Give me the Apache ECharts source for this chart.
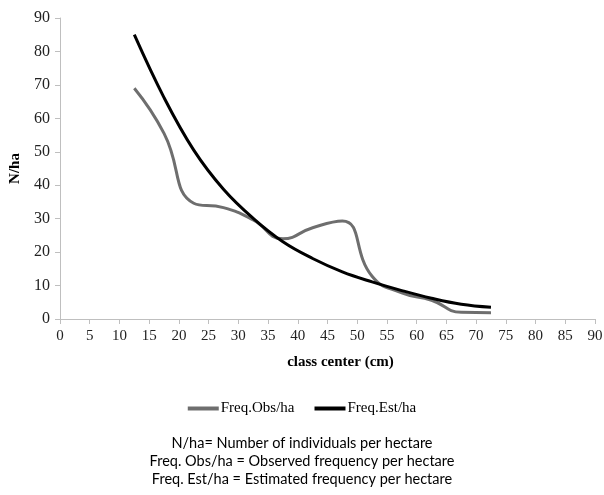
<!DOCTYPE html>
<html>
<head>
<meta charset="utf-8">
<script src="https://cdn.jsdelivr.net/npm/echarts@6/dist/echarts.min.js"></script>
<style>
  html, body { margin: 0; padding: 0; background: #fff; }
  #main { width: 604px; height: 495px; }
</style>
</head>
<body>
<div id="main"></div>
<script>
// class centres (cm)
var classCenter = [12.5, 17.5, 22.5, 27.5, 32.5, 37.5, 42.5, 47.5, 52.5, 57.5, 62.5, 67.5, 72.5];
// observed and estimated frequency per hectare
var freqObs = [69, 55.5, 34.6, 33.3, 29.6, 24.0, 27.3, 29.3, 12.8, 7.8, 5.6, 2.0, 1.9];
var freqEst = [85, 66.2, 50.5, 38.8, 30.1, 23.1, 18.1, 14.1, 11.1, 8.5, 6.2, 4.4, 3.5];
var xTicks = { min: 0, max: 90, step: 5 };
var yTicks = { min: 0, max: 90, step: 10 };
var footnotes = [
    'N/ha= Number of individuals per hectare',
    'Freq. Obs/ha = Observed frequency per hectare',
    'Freq. Est/ha = Estimated frequency per hectare'
];

function pairs(xs, ys) {
    return xs.map(function (x, i) { return [x, ys[i]]; });
}

var serif = '"Liberation Serif", "Times New Roman", serif';
var axisGrey = '#bfbfbf';

var myChart = echarts.init(document.getElementById('main'));
var option = {
    animation: false,
    backgroundColor: '#fff',
    grid: { left: 60, right: 9, top: 18, bottom: 176, containLabel: false, outerBoundsMode: 'none' },
    legend: {
        top: 396,
        left: 'center',
        icon: 'rect',
        itemWidth: 31,
        itemHeight: 4,
        itemGap: 20,
        textStyle: { fontFamily: serif, fontSize: 15, color: '#000', padding: [0, 0, 0, -3] },
        data: ['Freq.Obs/ha', 'Freq.Est/ha']
    },
    xAxis: {
        type: 'value',
        min: xTicks.min, max: xTicks.max, interval: xTicks.step,
        name: 'class center (cm)',
        nameLocation: 'middle',
        nameGap: 36,
        nameTextStyle: { fontFamily: serif, fontSize: 15, fontWeight: 'bold', color: '#000', padding: [0, 0, 0, 26] },
        axisLine: { lineStyle: { color: axisGrey, width: 1 } },
        axisTick: { show: true, length: 5, lineStyle: { color: axisGrey } },
        axisLabel: { fontFamily: serif, fontSize: 15, color: '#222', margin: 10 },
        splitLine: { show: false }
    },
    yAxis: {
        type: 'value',
        min: yTicks.min, max: yTicks.max, interval: yTicks.step,
        name: 'N/ha',
        nameLocation: 'middle',
        nameRotate: 90,
        nameGap: 35,
        nameTextStyle: { fontFamily: serif, fontSize: 15, fontWeight: 'bold', color: '#000' },
        axisLine: { show: true, lineStyle: { color: axisGrey, width: 1 } },
        axisTick: { show: true, length: 5, lineStyle: { color: axisGrey } },
        axisLabel: { fontFamily: serif, fontSize: 16, color: '#222', margin: 10 },
        splitLine: { show: false }
    },
    series: [
        {
            name: 'Freq.Obs/ha',
            type: 'line',
            smooth: 0.5,
            showSymbol: false,
            color: '#6e6e6e',
            lineStyle: { color: '#6e6e6e', width: 3 },
            data: pairs(classCenter, freqObs)
        },
        {
            name: 'Freq.Est/ha',
            type: 'line',
            smooth: 0.4,
            showSymbol: false,
            color: '#000',
            lineStyle: { color: '#000', width: 3 },
            data: pairs(classCenter, freqEst)
        }
    ],
    graphic: footnotes.map(function (t, i) {
        return {
            type: 'text',
            left: 'center',
            top: 436 + i * 18,
            style: { text: t, fontFamily: 'Lato, "Open Sans", sans-serif', fontSize: 14.5, fill: '#000' }
        };
    })
};
myChart.setOption(option);
window.onresize = function () { myChart.resize(); };
</script>
</body>
</html>
